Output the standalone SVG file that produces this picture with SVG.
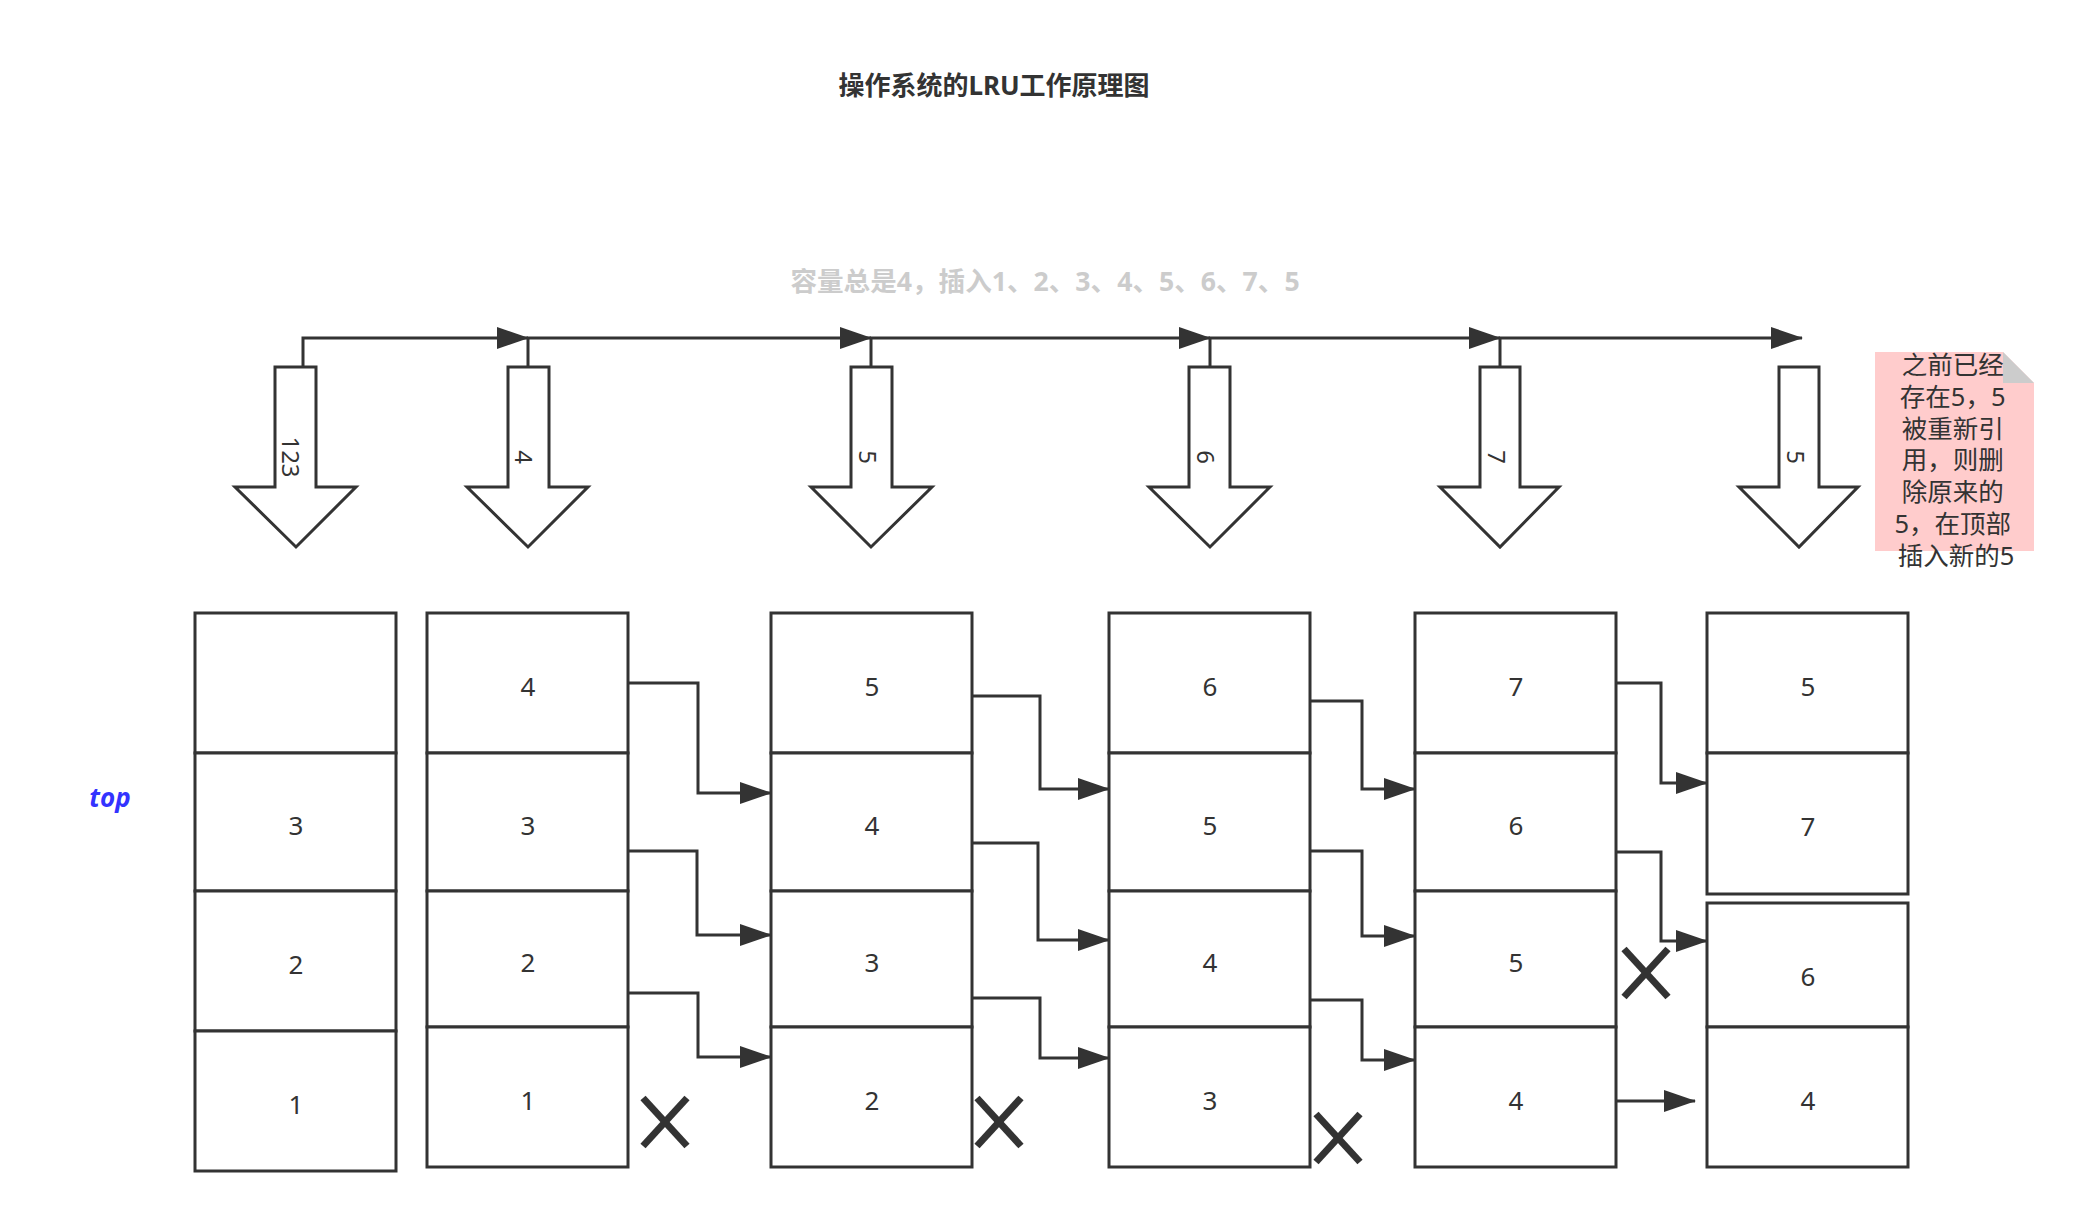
<svg xmlns="http://www.w3.org/2000/svg" width="2085" height="1223" viewBox="0 0 2085 1223">
<defs>
<style>
.t{font-family:"Noto Sans","Noto Sans CJK SC",sans-serif;fill:#333333;}
.cell{fill:#ffffff;stroke:#333333;stroke-width:3;}
.lbl{font-size:26px;text-anchor:middle;dominant-baseline:central;}
.al{font-size:24px;text-anchor:middle;dominant-baseline:central;}
.arr{fill:#ffffff;stroke:#333333;stroke-width:3;stroke-linejoin:miter;}
.edge{fill:none;stroke:#333333;stroke-width:3;marker-end:url(#blk);}
.x{stroke:#333333;stroke-width:7;}
</style>
<marker id="blk" markerUnits="userSpaceOnUse" markerWidth="32" markerHeight="22" refX="31" refY="11" orient="auto">
<path d="M0,0 L32,11 L0,22 Z" fill="#333333"/>
</marker>
</defs>
<rect width="2085" height="1223" fill="#ffffff"/>

<g id="title"><text class="t" x="994" y="85" font-size="26" font-weight="bold" text-anchor="middle" dominant-baseline="central">操作系统的LRU工作原理图</text></g>
<g id="subtitle"><text class="t" x="1045" y="281" font-size="26.6" font-weight="bold" text-anchor="middle" dominant-baseline="central" style="fill:#CCCCCC">容量总是4，插入1、2、3、4、5、6、7、5</text></g>

<g id="connectors">
<path class="edge" d="M303,367 V338 H528"/>
<path class="edge" d="M528,367 V338 H871"/>
<path class="edge" d="M871,367 V338 H1210"/>
<path class="edge" d="M1210,367 V338 H1500"/>
<path class="edge" d="M1500,367 V338 H1802"/>

<path class="edge" d="M628,683 H698 V793 H771"/>
<path class="edge" d="M624,851 H697 V935 H771"/>
<path class="edge" d="M628,993 H698 V1057 H771"/>

<path class="edge" d="M970,696 H1040 V789 H1109"/>
<path class="edge" d="M966,843 H1038 V940 H1109"/>
<path class="edge" d="M970,998 H1040 V1058 H1109"/>

<path class="edge" d="M1310,701 H1362 V789 H1415"/>
<path class="edge" d="M1310,851 H1362 V936 H1415"/>
<path class="edge" d="M1310,1000 H1362 V1060 H1415"/>

<path class="edge" d="M1616,683 H1661 V783 H1707"/>
<path class="edge" d="M1614,852 H1661 V941 H1707"/>
<path class="edge" d="M1616,1101 H1695"/>
</g>

<g id="arrow-123">
<path class="arr" d="M275,367 H316 V487 H356 L296,547 L235,487 H275 Z"/>
<text class="t al" x="291" y="457" transform="rotate(90 291 457)">123</text>
</g>
<g id="arrow-4">
<path class="arr" d="M508,367 H549 V487 H588 L528,547 L467,487 H508 Z"/>
<text class="t al" x="524" y="457" transform="rotate(90 524 457)">4</text>
</g>
<g id="arrow-5">
<path class="arr" d="M851,367 H892 V487 H932 L871,547 L811,487 H851 Z"/>
<text class="t al" x="868" y="457" transform="rotate(90 868 457)">5</text>
</g>
<g id="arrow-6">
<path class="arr" d="M1189,367 H1230 V487 H1270 L1210,547 L1149,487 H1189 Z"/>
<text class="t al" x="1206" y="457" transform="rotate(90 1206 457)">6</text>
</g>
<g id="arrow-7">
<path class="arr" d="M1480,367 H1520 V487 H1559 L1500,547 L1440,487 H1480 Z"/>
<text class="t al" x="1497" y="457" transform="rotate(90 1497 457)">7</text>
</g>
<g id="arrow-5b">
<path class="arr" d="M1779,367 H1819 V487 H1858 L1799,547 L1739,487 H1779 Z"/>
<text class="t al" x="1796" y="457" transform="rotate(90 1796 457)">5</text>
</g>

<g id="note">
<path d="M1875,352 H2003 L2034,383 V551 H1875 Z" fill="#FFCCCC"/>
<path d="M2003,352 L2034,383 H2003 Z" fill="#CCCCCC"/>
<text class="t" font-size="25.5" text-anchor="middle" dominant-baseline="central">
<tspan x="1956" y="364">之前已经</tspan>
<tspan x="1956" y="396">存在5，5</tspan>
<tspan x="1956" y="428">被重新引</tspan>
<tspan x="1956" y="459">用，则删</tspan>
<tspan x="1956" y="491">除原来的</tspan>
<tspan x="1956" y="523">5，在顶部</tspan>
<tspan x="1956" y="555">插入新的5</tspan>
</text>
</g>

<g id="top-label"><text x="110" y="797" font-family="'Noto Sans',sans-serif" font-size="26" font-weight="bold" font-style="italic" fill="#3333FF" text-anchor="middle" dominant-baseline="central">top</text></g>

<g id="stack1">
<rect class="cell" x="195" y="613" width="201" height="140"/>
<rect class="cell" x="195" y="753" width="201" height="138"/>
<rect class="cell" x="195" y="891" width="201" height="140"/>
<rect class="cell" x="195" y="1031" width="201" height="140"/>
<text class="t lbl" x="296" y="825">3</text>
<text class="t lbl" x="296" y="964">2</text>
<text class="t lbl" x="296" y="1104">1</text>
</g>
<g id="stack2">
<rect class="cell" x="427" y="613" width="201" height="140"/>
<rect class="cell" x="427" y="753" width="201" height="138"/>
<rect class="cell" x="427" y="891" width="201" height="136"/>
<rect class="cell" x="427" y="1027" width="201" height="140"/>
<text class="t lbl" x="528" y="686">4</text>
<text class="t lbl" x="528" y="825">3</text>
<text class="t lbl" x="528" y="962">2</text>
<text class="t lbl" x="528" y="1100">1</text>
</g>
<g id="stack3">
<rect class="cell" x="771" y="613" width="201" height="140"/>
<rect class="cell" x="771" y="753" width="201" height="138"/>
<rect class="cell" x="771" y="891" width="201" height="136"/>
<rect class="cell" x="771" y="1027" width="201" height="140"/>
<text class="t lbl" x="872" y="686">5</text>
<text class="t lbl" x="872" y="825">4</text>
<text class="t lbl" x="872" y="962">3</text>
<text class="t lbl" x="872" y="1100">2</text>
</g>
<g id="stack4">
<rect class="cell" x="1109" y="613" width="201" height="140"/>
<rect class="cell" x="1109" y="753" width="201" height="138"/>
<rect class="cell" x="1109" y="891" width="201" height="136"/>
<rect class="cell" x="1109" y="1027" width="201" height="140"/>
<text class="t lbl" x="1210" y="686">6</text>
<text class="t lbl" x="1210" y="825">5</text>
<text class="t lbl" x="1210" y="962">4</text>
<text class="t lbl" x="1210" y="1100">3</text>
</g>
<g id="stack5">
<rect class="cell" x="1415" y="613" width="201" height="140"/>
<rect class="cell" x="1415" y="753" width="201" height="138"/>
<rect class="cell" x="1415" y="891" width="201" height="136"/>
<rect class="cell" x="1415" y="1027" width="201" height="140"/>
<text class="t lbl" x="1516" y="686">7</text>
<text class="t lbl" x="1516" y="825">6</text>
<text class="t lbl" x="1516" y="962">5</text>
<text class="t lbl" x="1516" y="1100">4</text>
</g>
<g id="stack6">
<rect class="cell" x="1707" y="613" width="201" height="140"/>
<rect class="cell" x="1707" y="753" width="201" height="141"/>
<rect class="cell" x="1707" y="903" width="201" height="124"/>
<rect class="cell" x="1707" y="1027" width="201" height="140"/>
<text class="t lbl" x="1808" y="686">5</text>
<text class="t lbl" x="1808" y="826">7</text>
<text class="t lbl" x="1808" y="976">6</text>
<text class="t lbl" x="1808" y="1100">4</text>
</g>

<g id="x1"><line class="x" x1="643" y1="1098" x2="687" y2="1146"/><line class="x" x1="687" y1="1098" x2="643" y2="1146"/></g>
<g id="x2"><line class="x" x1="977" y1="1098" x2="1021" y2="1146"/><line class="x" x1="1021" y1="1098" x2="977" y2="1146"/></g>
<g id="x3"><line class="x" x1="1316" y1="1114" x2="1360" y2="1162"/><line class="x" x1="1360" y1="1114" x2="1316" y2="1162"/></g>
<g id="x4"><line class="x" x1="1624" y1="949" x2="1668" y2="997"/><line class="x" x1="1668" y1="949" x2="1624" y2="997"/></g>
</svg>
